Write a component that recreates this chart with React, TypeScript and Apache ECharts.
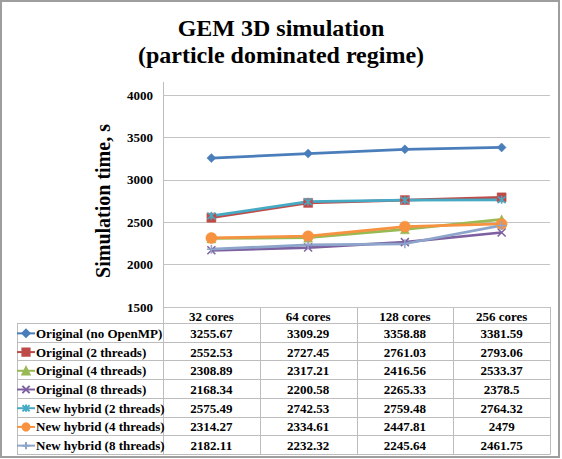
import React, { useEffect, useRef } from "react";
import * as echarts from "echarts";

const WIDTH = 562;
const HEIGHT = 459;

const categories = ["32 cores", "64 cores", "128 cores", "256 cores"];

const seriesNames = [
  "Original (no OpenMP)",
  "Original (2 threads)",
  "Original (4 threads)",
  "Original (8 threads)",
  "New hybrid (2 threads)",
  "New hybrid (4 threads)",
  "New hybrid (8 threads)",
];

const originalNoOpenMP = [3255.67, 3309.29, 3358.88, 3381.59];
const original2Threads = [2552.53, 2727.45, 2761.03, 2793.06];
const original4Threads = [2308.89, 2317.21, 2416.56, 2533.37];
const original8Threads = [2168.34, 2200.58, 2265.33, 2378.5];
const hybrid2Threads = [2575.49, 2742.53, 2759.48, 2764.32];
const hybrid4Threads = [2314.27, 2334.61, 2447.81, 2479];
const hybrid8Threads = [2182.11, 2232.32, 2245.64, 2461.75];

const yTicks = { min: 1500, max: 4000, interval: 500 };

const seriesValues = [
  originalNoOpenMP,
  original2Threads,
  original4Threads,
  original8Threads,
  hybrid2Threads,
  hybrid4Threads,
  hybrid8Threads,
];

const colors = ["#4a7ebb", "#be4b48", "#98b954", "#7d60a0", "#46aac5", "#f69240", "#8ea5cb"];

const CROSS = "path://M0,0L10,10M10,0L0,10";
const ASTERISK = "path://M0,0L10,10M10,0L0,10M5,-1L5,11";
const PLUS = "path://M5,0L5,10M0,5L10,5";

const markers: { symbol: string; size: number; stroke?: boolean }[] = [
  { symbol: "diamond", size: 9 },
  { symbol: "rect", size: 9 },
  { symbol: "triangle", size: 9 },
  { symbol: CROSS, size: 8, stroke: true },
  { symbol: ASTERISK, size: 8, stroke: true },
  { symbol: "circle", size: 11 },
  { symbol: PLUS, size: 9, stroke: true },
];

// Layout of the plot and the data table underneath it
const PLOT_LEFT = 163;
const PLOT_RIGHT = 550;
const PLOT_TOP = 95;
const PLOT_BOTTOM = 307;
const HEADER_H = 16;
const TABLE_LEFT = 17;
const TABLE_BOTTOM = 454;

const SERIF = "Liberation Serif";
const BORDER = "#bdbdbd";

export default function App() {
  const ref = useRef<HTMLDivElement>(null);

  useEffect(() => {
    if (!ref.current) return;
    const chart = echarts.init(ref.current, undefined, { renderer: "svg" });

    const colW = (PLOT_RIGHT - PLOT_LEFT) / categories.length;
    const rowTop = PLOT_BOTTOM + HEADER_H;
    const rowH = (TABLE_BOTTOM - rowTop) / seriesNames.length;
    const line = (x1: number, y1: number, x2: number, y2: number, color = BORDER) => ({
      type: "line",
      shape: { x1, y1, x2, y2 },
      style: { stroke: color, lineWidth: 1 },
      silent: true,
    });
    const cellText = (text: string, x: number, y: number) => ({
      type: "text",
      x,
      y,
      style: {
        text,
        fontFamily: SERIF,
        fontWeight: "bold",
        fontSize: 13,
        fill: "#000",
        align: "center",
        verticalAlign: "middle",
      },
      silent: true,
    });

    const graphics: any[] = [];
    // outer frame
    graphics.push({
      type: "rect",
      shape: { x: 1, y: 1, width: 558, height: 456 },
      style: { fill: "none", stroke: "#9e9e9e", lineWidth: 2 },
      silent: true,
    });
    // value axis line, continued as the table's inner border
    graphics.push(line(PLOT_LEFT + 0.5, 82, PLOT_LEFT + 0.5, TABLE_BOTTOM + 0.5));
    // header top
    graphics.push(line(PLOT_LEFT, PLOT_BOTTOM + 0.5, PLOT_RIGHT, PLOT_BOTTOM + 0.5));
    // row lines
    for (let r = 0; r <= seriesNames.length; r++) {
      const y = Math.round(rowTop + r * rowH) + 0.5;
      graphics.push(line(TABLE_LEFT, y, PLOT_RIGHT, y));
    }
    graphics.push(line(TABLE_LEFT + 0.5, rowTop, TABLE_LEFT + 0.5, TABLE_BOTTOM + 0.5));
    for (let c = 1; c <= categories.length; c++) {
      const x = Math.round(PLOT_LEFT + c * colW) + 0.5;
      graphics.push(line(x, PLOT_BOTTOM, x, TABLE_BOTTOM + 0.5));
    }
    // header labels
    categories.forEach((cat, c) => {
      graphics.push(cellText(cat, PLOT_LEFT + (c + 0.5) * colW, PLOT_BOTTOM + HEADER_H / 2 + 1));
    });
    // value cells
    seriesValues.forEach((vals, r) => {
      vals.forEach((v, c) => {
        graphics.push(
          cellText(String(v), PLOT_LEFT + (c + 0.5) * colW, rowTop + (r + 0.5) * rowH + 1)
        );
      });
    });

    const legendIconH = 9;
    const legendTextH = 13;

    chart.setOption({
      animation: false,
      backgroundColor: "#fff",
      color: colors,
      textStyle: { fontFamily: SERIF },
      title: {
        text: "GEM 3D simulation\n(particle dominated regime)",
        left: "center",
        top: 9,
        textStyle: {
          fontFamily: SERIF,
          fontWeight: "bold",
          fontSize: 24,
          lineHeight: 27,
          color: "#000",
        },
      },
      legend: {
        orient: "vertical",
        left: TABLE_LEFT - 1,
        top: rowTop + rowH / 2 - legendTextH / 2 + 1,
        padding: 0,
        itemWidth: 18,
        itemHeight: legendIconH,
        itemGap: rowH - legendTextH,
        selectedMode: false,
        textStyle: {
          fontFamily: SERIF,
          fontWeight: "bold",
          fontSize: 13,
          color: "#000",
          padding: [0, 0, 0, -4],
        },
        data: seriesNames,
      },
      grid: {
        left: PLOT_LEFT,
        right: WIDTH - PLOT_RIGHT,
        top: PLOT_TOP,
        bottom: HEIGHT - PLOT_BOTTOM,
      },
      xAxis: {
        type: "category",
        data: categories,
        boundaryGap: true,
        axisLine: { show: false },
        axisTick: { show: false },
        axisLabel: { show: false },
      },
      yAxis: {
        type: "value",
        min: yTicks.min,
        max: yTicks.max,
        interval: yTicks.interval,
        name: "Simulation time, s",
        nameLocation: "middle",
        nameGap: 50,
        nameTextStyle: {
          fontFamily: SERIF,
          fontWeight: "bold",
          fontSize: 20,
          color: "#000",
        },
        axisLine: { show: false },
        axisTick: { show: false },
        axisLabel: {
          margin: 10,
          fontFamily: SERIF,
          fontWeight: "bold",
          fontSize: 13,
          color: "#000",
          formatter: (v: number) => String(v),
        },
        splitLine: { lineStyle: { color: "#c4c4c4", width: 1 } },
      },
      series: seriesNames.map((name, i) => ({
        name,
        type: "line",
        data: seriesValues[i],
        symbol: markers[i].symbol,
        symbolSize: markers[i].size,
        showAllSymbol: true,
        lineStyle: { width: 2.75, color: colors[i] },
        itemStyle: markers[i].stroke
          ? { color: colors[i], borderColor: colors[i], borderWidth: 1.5 }
          : { color: colors[i], borderColor: colors[i], borderWidth: 0.5 },
        emphasis: { disabled: true },
      })),
      graphic: graphics,
    });

    return () => chart.dispose();
  }, []);

  return (
    <div
      ref={ref}
      style={{ position: "fixed", left: 0, top: 0, width: WIDTH, height: HEIGHT }}
    />
  );
}
